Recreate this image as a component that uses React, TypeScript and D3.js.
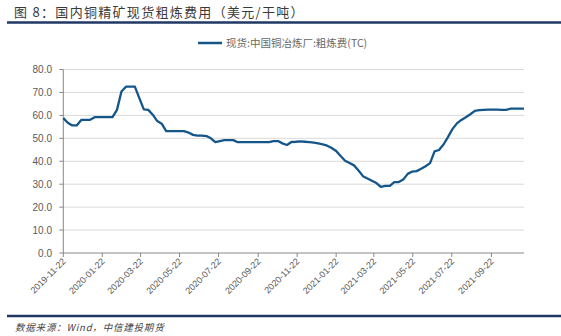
import React from "react";
import * as d3 from "d3";

const startDate = "2019-11-22";
const endDate = "2021-11-12";
const tickLabels = [
  "2019-11-22", "2020-01-22", "2020-03-22", "2020-05-22", "2020-07-22", "2020-09-22",
  "2020-11-22", "2021-01-22", "2021-03-22", "2021-05-22", "2021-07-22", "2021-09-22",
];
const yTicks = [0, 10, 20, 30, 40, 50, 60, 70, 80];
// weekly values starting 2019-11-22
const tcValues = [
  58.8, 56.8, 55.6, 55.6, 58.0, 58.0, 58.1, 59.2, 59.2, 59.2,
  59.2, 59.2, 62.4, 70.4, 72.5, 72.5, 72.5, 67.5, 62.6, 62.4,
  60.3, 57.5, 56.4, 53.1, 53.1, 53.1, 53.1, 53.1, 52.5, 51.5,
  51.2, 51.2, 51.0, 50.0, 48.3, 48.8, 49.2, 49.2, 49.2, 48.3,
  48.3, 48.3, 48.3, 48.3, 48.3, 48.3, 48.3, 48.8, 48.8, 47.8,
  47.1, 48.4, 48.5, 48.7, 48.5, 48.3, 48.1, 47.8, 47.4, 46.8,
  45.8, 44.5, 42.3, 40.2, 39.2, 38.2, 36.0, 33.5, 32.5, 31.5,
  30.5, 28.8, 29.3, 29.3, 30.9, 30.9, 32.0, 34.5, 35.5, 35.7,
  36.7, 37.8, 39.2, 44.3, 44.9, 47.3, 50.5, 54.0, 56.5, 58.0,
  59.2, 60.5, 62.0, 62.3, 62.4, 62.5, 62.5, 62.5, 62.4, 62.4,
  62.9, 62.9, 62.9, 62.9,
];
const title = "图 8：国内铜精矿现货粗炼费用（美元/干吨）";
const legendLabel = "现货:中国铜冶炼厂:粗炼费(TC)";
const sourceText = "数据来源：Wind，中信建投期货";

const parse = d3.timeParse("%Y-%m-%d");

export default function App() {
  const W = 561, H = 336;
  const left = 63.3, right = 524, top = 69.5, bottom = 253;
  const t0 = parse(startDate)!;
  const t1 = parse(endDate)!;
  const x = d3.scaleTime().domain([t0, t1]).range([left, right]);
  const y = d3.scaleLinear().domain([0, 80]).range([bottom, top]);
  const data = tcValues.map((v, i) => ({ d: d3.timeDay.offset(t0, i * 7), v }));
  const line = d3.line<{ d: Date; v: number }>().x(p => x(p.d)).y(p => y(p.v));
  const font = "'Liberation Sans', Arial, sans-serif";
  const cjk = "'Noto Sans CJK SC', sans-serif";
  return (
    <svg width={W} height={H} style={{ position: "absolute", left: 0, top: 0, background: "#fff" }}>
      <text x={14} y={17} fontFamily={cjk} fontSize={13} fill="#3a3a3a" letterSpacing={1.3}>{title}</text>
      <line x1={7} x2={561} y1={22.5} y2={22.5} stroke="#1f3864" strokeWidth={2.5} />
      {/* legend */}
      <line x1={198} x2={222} y1={43} y2={43} stroke="#15568a" strokeWidth={2.5} />
      <text x={226} y={47} fontFamily={cjk} fontSize={10.5} fill="#666">{legendLabel}</text>
      {/* gridlines */}
      {yTicks.filter(t => t > 0).map(t => (
        <line key={t} x1={left} x2={right} y1={y(t)} y2={y(t)} stroke="#d9d9d9" strokeWidth={1} />
      ))}
      {yTicks.map(t => (
        <g key={"yl" + t}>
          <line x1={left - 4} x2={left} y1={y(t)} y2={y(t)} stroke="#888" />
          <text x={52} y={y(t) + 3.5} textAnchor="end" fontFamily={font} fontSize={10} fill="#595959">{t.toFixed(1)}</text>
        </g>
      ))}
      <line x1={left} x2={left} y1={top} y2={bottom} stroke="#888" />
      <line x1={left} x2={right} y1={bottom} y2={bottom} stroke="#888" />
      {tickLabels.map(lb => {
        const xx = x(parse(lb)!);
        return (
          <g key={lb}>
            <line x1={xx} x2={xx} y1={bottom} y2={bottom + 4} stroke="#888" />
            <text transform={`translate(${xx + 3},${bottom + 9}) rotate(-45)`} textAnchor="end" fontFamily={font} fontSize={9} fill="#595959">{lb}</text>
          </g>
        );
      })}
      <path d={line(data)!} fill="none" stroke="#15568a" strokeWidth={2.3} strokeLinejoin="round" />
      <line x1={7} x2={561} y1={316} y2={316} stroke="#1f3864" strokeWidth={2.5} />
      <text x={15} y={331} fontFamily={cjk} fontSize={9.5} fontStyle="italic" fill="#444" letterSpacing={0.8}>{sourceText}</text>
    </svg>
  );
}
